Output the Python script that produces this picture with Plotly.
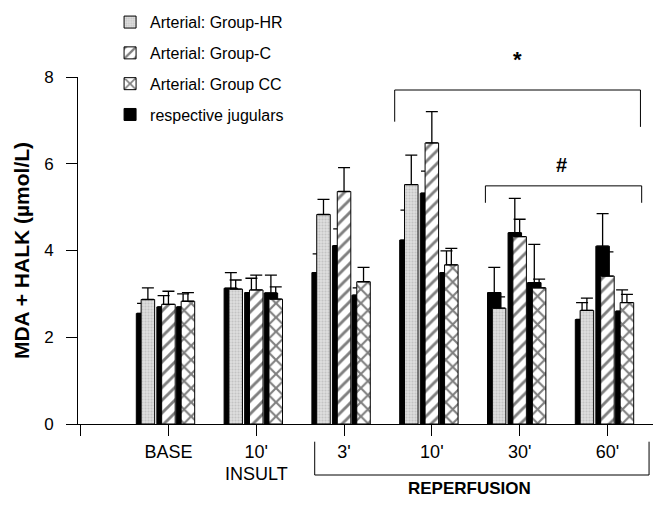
import plotly.graph_objects as go

# ---- data ----
tick_pos = [0, 1, 2, 3, 4, 5, 6]
tick_text = ["", "BASE", "10'", "3'", "10'", "30'", "60'"]
positions = [1, 2, 3, 4, 5, 6]

art_hr = [2.87, 3.11, 4.83, 5.52, 2.67, 2.62]
art_hr_top = [3.14, 3.32, 5.18, 6.20, 2.93, 2.90]
jug_hr = [2.55, 3.13, 3.49, 4.24, 3.03, 2.41]
jug_hr_top = [2.78, 3.49, 3.92, 4.93, 3.61, 2.80]

art_c = [2.76, 3.09, 5.36, 6.48, 4.32, 3.41]
art_c_top = [3.06, 3.43, 5.91, 7.20, 4.72, 3.97]
jug_c = [2.70, 3.03, 4.11, 5.32, 4.41, 4.10]
jug_c_top = [2.96, 3.36, 4.50, 5.83, 5.20, 4.85]

art_cc = [2.83, 2.88, 3.28, 3.67, 3.14, 2.80]
art_cc_top = [3.03, 3.16, 3.61, 4.05, 3.34, 2.99]
jug_cc = [2.70, 3.02, 2.97, 3.49, 3.26, 2.60]
jug_cc_top = [3.00, 3.43, 3.14, 3.99, 4.14, 3.09]

FONT = "Liberation Sans, Arial, Helvetica, sans-serif"
BW = 0.154          # bar width (axis units)
JSHIFT = 0.055      # jugular bar shift to the left
centers = {"hr": -0.234, "c": 0.0, "cc": 0.222}


def err(vals, tops):
    return dict(type="data", symmetric=False,
                array=[round(t - v, 3) for v, t in zip(vals, tops)],
                arrayminus=[0] * len(vals),
                color="black", thickness=1.3, width=6)


fig = go.Figure()

groups = [
    ("hr", "Arterial: Group-HR", art_hr, art_hr_top, jug_hr, jug_hr_top,
     dict(shape=".", fgcolor="#a8a8a8", bgcolor="#dedede", size=3, solidity=0.4), 1),
    ("c", "Arterial: Group-C", art_c, art_c_top, jug_c, jug_c_top,
     dict(shape="/", fgcolor="black", bgcolor="white", size=9, solidity=0.32), 2),
    ("cc", "Arterial: Group CC", art_cc, art_cc_top, jug_cc, jug_cc_top,
     dict(shape="x", fgcolor="black", bgcolor="white", size=10, solidity=0.38), 3),
]

for key, name, av, at, jv, jt, pat, rank in groups:
    left = centers[key] - BW / 2
    fig.add_trace(go.Bar(
        x=positions, y=jv, width=BW, offset=left - JSHIFT,
        marker=dict(color="black", line=dict(color="black", width=1)),
        error_y=err(jv, jt), name="respective jugulars",
        showlegend=(key == "hr"), legendrank=4, legendgroup="jug",
    ))
    fig.add_trace(go.Bar(
        x=positions, y=av, width=BW, offset=left,
        marker=dict(color="white", pattern=pat, line=dict(color="black", width=1)),
        error_y=err(av, at), name=name, legendrank=rank, legendgroup=key,
    ))

line = dict(color="black", width=1)
shapes = [
    # significance bracket *
    dict(type="path", xref="x", yref="y", line=line,
         path="M 3.577,6.97 L 3.577,7.70 L 6.376,7.70 L 6.376,6.85"),
    # significance bracket #
    dict(type="path", xref="x", yref="y", line=line,
         path="M 4.61,5.10 L 4.61,5.49 L 6.39,5.49 L 6.39,5.10"),
    # reperfusion bracket under axis
    dict(type="line", xref="x", yref="paper", x0=2.666, x1=2.666, y0=-0.051, y1=-0.147, line=line),
    dict(type="line", xref="x", yref="paper", x0=2.666, x1=6.474, y0=-0.147, y1=-0.147, line=line),
    dict(type="line", xref="x", yref="paper", x0=6.474, x1=6.474, y0=-0.051, y1=-0.147, line=line),
]

annotations = [
    dict(text="<b>*</b>", x=4.98, y=1.049, xref="x", yref="paper", showarrow=False,
         font=dict(size=22, family=FONT, color="black"), xanchor="center", yanchor="middle"),
    dict(text="<b>#</b>", x=5.48, y=5.97, xref="x", yref="y", showarrow=False,
         font=dict(size=20, family=FONT, color="black"), xanchor="center", yanchor="middle"),
    dict(text="INSULT", x=2, y=-0.143, xref="x", yref="paper", showarrow=False,
         font=dict(size=18, family=FONT, color="black"), xanchor="center", yanchor="middle"),
    dict(text="<b>REPERFUSION</b>", x=4.43, y=-0.187, xref="x", yref="paper", showarrow=False,
         font=dict(size=17, family=FONT, color="black"), xanchor="center", yanchor="middle"),
]

# page body has an 8px default margin, so the figure is 8px smaller than the window
fig.update_layout(
    width=653, height=504,
    margin=dict(l=70, r=0, t=69, b=88, autoexpand=False),
    paper_bgcolor="white", plot_bgcolor="white",
    barmode="overlay",
    font=dict(family=FONT, color="black"),
    shapes=shapes, annotations=annotations,
    legend=dict(x=0.055, y=1.207, xanchor="left", yanchor="top",
                font=dict(size=16, family=FONT, color="black"),
                bgcolor="rgba(0,0,0,0)", tracegroupgap=7),
    xaxis=dict(range=[-0.03, 6.61], tickvals=tick_pos, ticktext=tick_text,
               showgrid=False, zeroline=False, showline=True, linecolor="black", linewidth=1,
               ticks="outside", ticklen=11, tickcolor="black", tickwidth=1,
               automargin=False,
               tickfont=dict(size=18, family=FONT, color="black")),
    yaxis=dict(range=[0, 8], tickvals=[0, 2, 4, 6, 8],
               showgrid=False, zeroline=False, showline=True, linecolor="black", linewidth=1,
               ticks="outside", ticklen=11, tickcolor="black", tickwidth=1,
               ticklabelstandoff=9, automargin=False,
               tickfont=dict(size=17, family=FONT, color="black"),
               title=dict(text="<b>MDA + HALK (µmol/L)</b>", standoff=8,
                          font=dict(size=21, family=FONT, color="black"))),
)

fig.write_html("out.html")
